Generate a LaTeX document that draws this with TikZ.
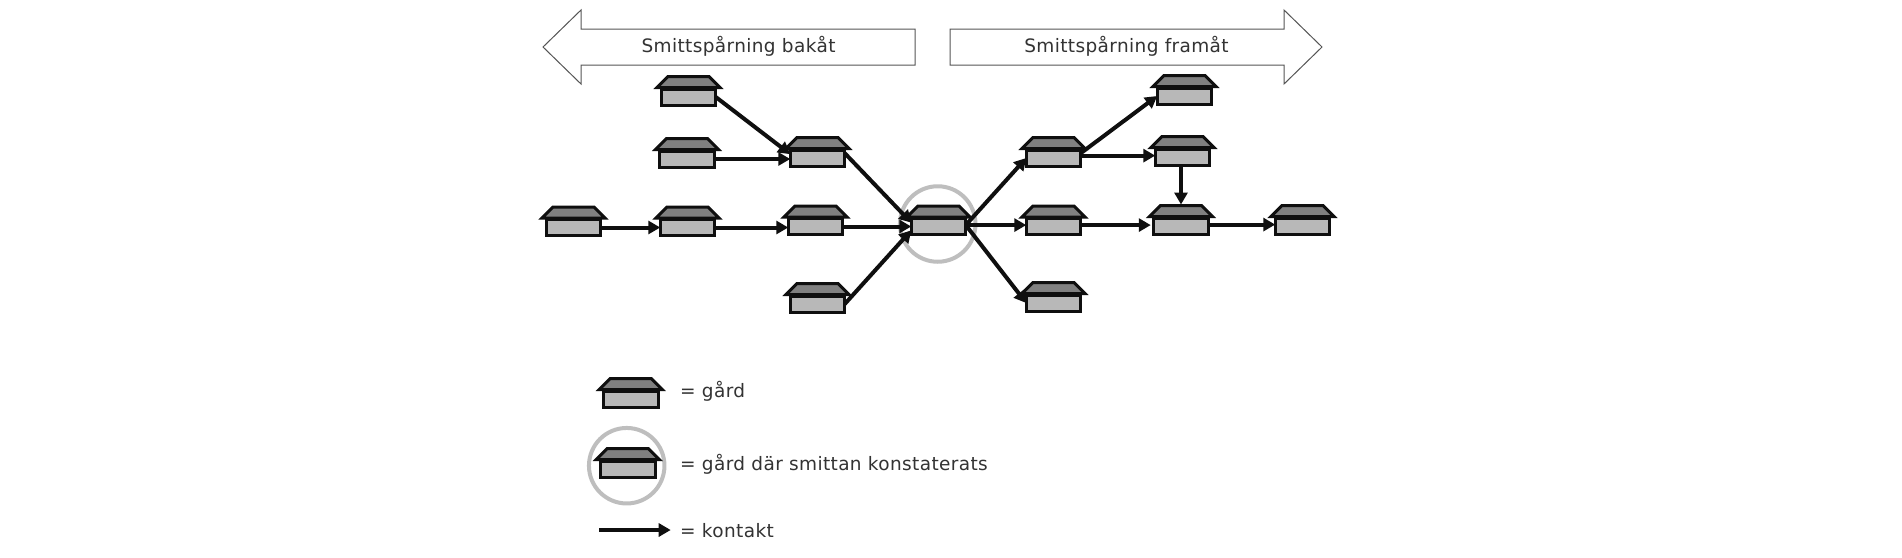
\documentclass[tikz,border=0pt]{standalone}
\usepackage{fontspec}
\setmainfont{DejaVu Sans}[LetterSpace=2]
\usetikzlibrary{arrows.meta}
\definecolor{stroke}{HTML}{0F0F0F}
\definecolor{roofgray}{HTML}{808080}
\definecolor{bodygray}{HTML}{B8B8B8}
\definecolor{ringgray}{HTML}{BEBEBE}
\definecolor{textgray}{HTML}{333333}
\definecolor{bannergray}{HTML}{555555}
\tikzset{
  farmbody/.style={draw=stroke,fill=bodygray,line width=3pt,minimum width=54.5pt,minimum height=16pt,inner sep=0pt,outer sep=0pt},
  farmroof/.style={draw=stroke,fill=roofgray,line width=3pt,line join=miter},
  ring/.style={draw=ringgray,line width=4pt},
  contact/.style={draw=stroke,line width=4pt,-{Triangle[length=12pt,width=13pt]}},
  banner/.style={draw=bannergray,fill=white,line width=1pt},
  bannertext/.style={text=textgray,font=\fontsize{18.5}{22}\selectfont,anchor=base,inner sep=0pt},
  legendtext/.style={text=textgray,font=\fontsize{18.5}{22}\selectfont,anchor=base west,inner sep=0pt},
}
\newcommand{\farm}[3]{%
  \draw[farmroof] ({#2-31.5},{#3-0.5}) -- ({#2-20.5},{#3-11.5}) -- ({#2+20.5},{#3-11.5}) -- ({#2+31.5},{#3-0.5}) -- cycle;
  \node[farmbody] (#1) at ({#2},{#3+9}) {};
  \coordinate (#1r) at ({#2},{#3-12.5});
}
\begin{document}
\begin{tikzpicture}[x=1pt,y=-1pt]
\useasboundingbox (0,0) rectangle (1902,557);
\fill[white] (0,0) rectangle (1902,557);
% banners
\draw[banner] (915,29) -- (581,29) -- (581,10) -- (543,47) -- (581,84) -- (581,65) -- (915,65) -- cycle;
\draw[banner] (950,29) -- (1284,29) -- (1284,10) -- (1322,47) -- (1284,84) -- (1284,65) -- (950,65) -- cycle;
\node[bannertext] (tback) at (738.5,52) {Smittspårning bakåt};
\node[bannertext] (tfwd) at (1126.5,52) {Smittspårning framåt};
% rings
\node[ring,circle,minimum size=75.5pt,inner sep=0pt] (cring) at (937.7,224) {};
\node[ring,circle,minimum size=75.5pt,inner sep=0pt] (lring) at (626.7,465.7) {};
% farms
\farm{a}{688.5}{88}
\farm{b}{687}{150}
\farm{c}{817.5}{149}
\farm{d}{573.5}{218.5}
\farm{e}{687.5}{218.5}
\farm{f}{815.5}{217.5}
\farm{g}{817.5}{295}
\farm{m}{938.5}{217.5}
\farm{h}{1053.5}{149}
\farm{i}{1053.5}{217.5}
\farm{j}{1053.5}{294}
\farm{k}{1184.5}{87}
\farm{l}{1182.5}{148}
\farm{n}{1181}{217}
\farm{o}{1302.5}{217}
\farm{la}{630.8}{390}
\farm{lb}{627.8}{460}
% connectors
\draw[contact] (a.east) -- (c.172);
\draw[contact] (b.east) -- (b.east -| c.west);
\draw[contact] (c.10) -- (m.172);
\draw[contact] (f.east) -- (f.east -| m.west);
\draw[contact] (g.east) -- (m.188);
\draw[contact] (d.east) -- (d.east -| e.west);
\draw[contact] (e.east) -- (e.east -| f.west);
\draw[contact] (m.3) -- (h.west);
\draw[contact] (m.3) -- (m.3 -| i.west);
\draw[contact] (m.3) -- (j.west);
\draw[contact] (h.10) -- (k.west);
\draw[contact] (h.5) -- (h.5 -| l.west);
\draw[contact] (nr |- l.south) -- (nr);
\draw[contact,shorten >=3pt] (i.3) -- (i.3 -| n.west);
\draw[contact] (n.3) -- (n.3 -| o.west);
% legend
\node[legendtext] (t1) at (680,397) {= gård};
\node[legendtext] (t2) at (680,470.7) {= gård där smittan konstaterats};
\node[legendtext] (t3) at (680,537) {= kontakt};
\coordinate (ls) at (599,530);
\coordinate (le) at (670.7,530);
\draw[contact] (ls) -- (le);
\end{tikzpicture}
\end{document}
